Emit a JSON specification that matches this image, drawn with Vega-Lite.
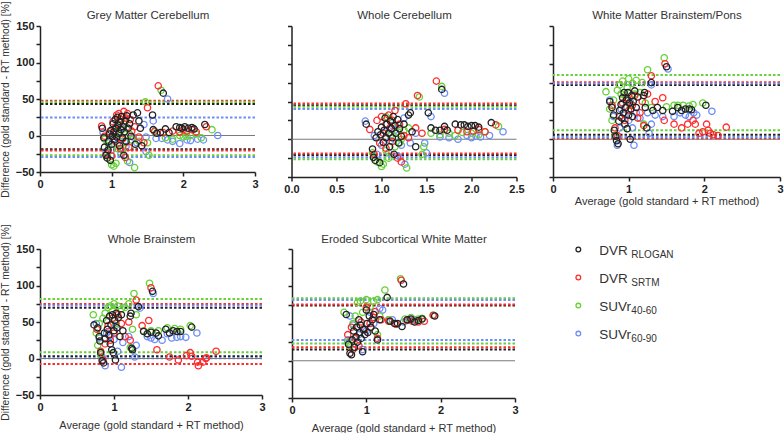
{
"$schema":"https://vega.github.io/schema/vega-lite/v6.json",
"padding":{"left":0,"top":0,"right":0,"bottom":0},
"datasets":{
"lim":[
{"p":1,"s":"R","y":43},{"p":1,"s":"R","y":-19},{"p":1,"s":"S","y":47.5},{"p":1,"s":"S","y":-20.5},{"p":1,"s":"G","y":46},{"p":1,"s":"G","y":-27},{"p":1,"s":"B","y":24.5},{"p":1,"s":"B","y":-29.5},
{"p":2,"s":"R","y":45},{"p":2,"s":"R","y":-21},{"p":2,"s":"S","y":47.5},{"p":2,"s":"S","y":-19},{"p":2,"s":"G","y":43},{"p":2,"s":"G","y":-26.5},{"p":2,"s":"B","y":40},{"p":2,"s":"B","y":-24},
{"p":3,"s":"R","y":72},{"p":3,"s":"R","y":6},{"p":3,"s":"S","y":75.5},{"p":3,"s":"S","y":1},{"p":3,"s":"G","y":85},{"p":3,"s":"G","y":12},{"p":3,"s":"B","y":74},{"p":3,"s":"B","y":3},
{"p":4,"s":"R","y":69.5},{"p":4,"s":"R","y":3},{"p":4,"s":"S","y":74.5},{"p":4,"s":"S","y":-7.5},{"p":4,"s":"G","y":81.5},{"p":4,"s":"G","y":8.5},{"p":4,"s":"B","y":72.5},{"p":4,"s":"B","y":0.5},
{"p":5,"s":"R","y":74},{"p":5,"s":"R","y":15},{"p":5,"s":"S","y":75.5},{"p":5,"s":"S","y":18},{"p":5,"s":"G","y":84},{"p":5,"s":"G","y":23},{"p":5,"s":"B","y":81.5},{"p":5,"s":"B","y":28}
],
"leg":[
{"s":"R","r":0,"main":"DVR","sub":"RLOGAN"},{"s":"S","r":1,"main":"DVR","sub":"SRTM"},{"s":"G","r":2,"main":"SUVr","sub":"40-60"},{"s":"B","r":3,"main":"SUVr","sub":"60-90"}
],
"pts":[
{"p":1,"s":"B","x":0.88,"y":4},{"p":1,"s":"B","x":0.92,"y":-22},{"p":1,"s":"B","x":0.95,"y":-10},{"p":1,"s":"B","x":1.0,"y":-20},{"p":1,"s":"B","x":1.02,"y":-5},{"p":1,"s":"B","x":1.05,"y":12},{"p":1,"s":"B","x":1.08,"y":-12},{"p":1,"s":"B","x":1.1,"y":5},{"p":1,"s":"B","x":1.13,"y":-25},{"p":1,"s":"B","x":1.15,"y":10},{"p":1,"s":"B","x":1.18,"y":-8},{"p":1,"s":"B","x":1.2,"y":-15},{"p":1,"s":"B","x":1.25,"y":-37},{"p":1,"s":"B","x":1.3,"y":-2},{"p":1,"s":"B","x":1.35,"y":-10},{"p":1,"s":"B","x":1.45,"y":15},{"p":1,"s":"B","x":1.48,"y":-2},{"p":1,"s":"B","x":1.48,"y":-22},{"p":1,"s":"B","x":1.58,"y":20},{"p":1,"s":"B","x":1.62,"y":-4},{"p":1,"s":"B","x":1.7,"y":-4},{"p":1,"s":"B","x":1.78,"y":50},{"p":1,"s":"B","x":1.78,"y":-6},{"p":1,"s":"B","x":1.85,"y":-8},{"p":1,"s":"B","x":1.95,"y":-11},{"p":1,"s":"B","x":2.05,"y":-6},{"p":1,"s":"B","x":2.1,"y":-7},{"p":1,"s":"B","x":2.2,"y":-5},{"p":1,"s":"B","x":2.28,"y":-6},{"p":1,"s":"B","x":2.48,"y":0},
{"p":2,"s":"B","x":0.82,"y":24},{"p":2,"s":"B","x":0.92,"y":5},{"p":2,"s":"B","x":0.95,"y":-20},{"p":2,"s":"B","x":1.0,"y":-8},{"p":2,"s":"B","x":1.05,"y":10},{"p":2,"s":"B","x":1.08,"y":-18},{"p":2,"s":"B","x":1.1,"y":-2},{"p":2,"s":"B","x":1.15,"y":12},{"p":2,"s":"B","x":1.18,"y":-22},{"p":2,"s":"B","x":1.22,"y":-8},{"p":2,"s":"B","x":1.25,"y":28},{"p":2,"s":"B","x":1.26,"y":-33},{"p":2,"s":"B","x":1.32,"y":-5},{"p":2,"s":"B","x":1.38,"y":8},{"p":2,"s":"B","x":1.48,"y":-5},{"p":2,"s":"B","x":1.5,"y":-18},{"p":2,"s":"B","x":1.55,"y":30},{"p":2,"s":"B","x":1.65,"y":3},{"p":2,"s":"B","x":1.7,"y":61},{"p":2,"s":"B","x":1.75,"y":2},{"p":2,"s":"B","x":1.85,"y":0},{"p":2,"s":"B","x":1.95,"y":5},{"p":2,"s":"B","x":2.0,"y":2},{"p":2,"s":"B","x":2.05,"y":4},{"p":2,"s":"B","x":2.1,"y":3},{"p":2,"s":"B","x":2.2,"y":5},{"p":2,"s":"B","x":2.35,"y":10},{"p":2,"s":"B","x":1.12,"y":18},
{"p":3,"s":"B","x":0.75,"y":52},{"p":3,"s":"B","x":0.8,"y":30},{"p":3,"s":"B","x":0.85,"y":-8},{"p":3,"s":"B","x":0.88,"y":15},{"p":3,"s":"B","x":0.9,"y":40},{"p":3,"s":"B","x":0.95,"y":32},{"p":3,"s":"B","x":1.0,"y":25},{"p":3,"s":"B","x":1.02,"y":50},{"p":3,"s":"B","x":1.05,"y":15},{"p":3,"s":"B","x":1.07,"y":-8},{"p":3,"s":"B","x":1.1,"y":35},{"p":3,"s":"B","x":1.15,"y":28},{"p":3,"s":"B","x":1.25,"y":35},{"p":3,"s":"B","x":1.27,"y":8},{"p":3,"s":"B","x":1.3,"y":20},{"p":3,"s":"B","x":1.3,"y":72},{"p":3,"s":"B","x":1.35,"y":32},{"p":3,"s":"B","x":1.45,"y":30},{"p":3,"s":"B","x":1.52,"y":93},{"p":3,"s":"B","x":1.6,"y":30},{"p":3,"s":"B","x":1.68,"y":35},{"p":3,"s":"B","x":1.75,"y":32},{"p":3,"s":"B","x":1.8,"y":30},{"p":3,"s":"B","x":1.86,"y":35},{"p":3,"s":"B","x":1.9,"y":32},{"p":3,"s":"B","x":2.1,"y":37},
{"p":4,"s":"B","x":0.76,"y":48},{"p":4,"s":"B","x":0.8,"y":28},{"p":4,"s":"B","x":0.84,"y":2},{"p":4,"s":"B","x":0.88,"y":-10},{"p":4,"s":"B","x":0.9,"y":35},{"p":4,"s":"B","x":0.95,"y":30},{"p":4,"s":"B","x":1.0,"y":26},{"p":4,"s":"B","x":1.02,"y":45},{"p":4,"s":"B","x":1.05,"y":10},{"p":4,"s":"B","x":1.1,"y":-12},{"p":4,"s":"B","x":1.12,"y":22},{"p":4,"s":"B","x":1.2,"y":30},{"p":4,"s":"B","x":1.28,"y":2},{"p":4,"s":"B","x":1.3,"y":18},{"p":4,"s":"B","x":1.35,"y":69},{"p":4,"s":"B","x":1.45,"y":30},{"p":4,"s":"B","x":1.5,"y":28},{"p":4,"s":"B","x":1.53,"y":89},{"p":4,"s":"B","x":1.55,"y":26},{"p":4,"s":"B","x":1.65,"y":25},{"p":4,"s":"B","x":1.72,"y":34},{"p":4,"s":"B","x":1.78,"y":28},{"p":4,"s":"B","x":1.85,"y":29},{"p":4,"s":"B","x":1.9,"y":30},{"p":4,"s":"B","x":1.97,"y":29},{"p":4,"s":"B","x":2.12,"y":35},
{"p":5,"s":"B","x":0.75,"y":28},{"p":5,"s":"B","x":0.78,"y":60},{"p":5,"s":"B","x":0.82,"y":48},{"p":5,"s":"B","x":0.85,"y":22},{"p":5,"s":"B","x":0.9,"y":35},{"p":5,"s":"B","x":0.95,"y":15},{"p":5,"s":"B","x":1.0,"y":40},{"p":5,"s":"B","x":1.05,"y":65},{"p":5,"s":"B","x":1.1,"y":50},{"p":5,"s":"B","x":1.18,"y":70},{"p":5,"s":"B","x":1.22,"y":68},{"p":5,"s":"B","x":1.3,"y":55},{"p":5,"s":"B","x":1.35,"y":55},{"p":5,"s":"B","x":1.5,"y":52},{"p":5,"s":"B","x":1.58,"y":55},{"p":5,"s":"B","x":1.65,"y":55},
{"p":1,"s":"G","x":0.9,"y":-5},{"p":1,"s":"G","x":0.93,"y":-30},{"p":1,"s":"G","x":0.96,"y":-14},{"p":1,"s":"G","x":1.0,"y":-40},{"p":1,"s":"G","x":1.03,"y":-42},{"p":1,"s":"G","x":1.06,"y":-38},{"p":1,"s":"G","x":1.05,"y":5},{"p":1,"s":"G","x":1.08,"y":-18},{"p":1,"s":"G","x":1.1,"y":20},{"p":1,"s":"G","x":1.12,"y":0},{"p":1,"s":"G","x":1.15,"y":-20},{"p":1,"s":"G","x":1.18,"y":15},{"p":1,"s":"G","x":1.2,"y":-10},{"p":1,"s":"G","x":1.22,"y":-35},{"p":1,"s":"G","x":1.25,"y":2},{"p":1,"s":"G","x":1.28,"y":-6},{"p":1,"s":"G","x":1.32,"y":-44},{"p":1,"s":"G","x":1.38,"y":-8},{"p":1,"s":"G","x":1.47,"y":46},{"p":1,"s":"G","x":1.5,"y":-10},{"p":1,"s":"G","x":1.52,"y":-27},{"p":1,"s":"G","x":1.6,"y":5},{"p":1,"s":"G","x":1.69,"y":62},{"p":1,"s":"G","x":1.75,"y":-3},{"p":1,"s":"G","x":1.85,"y":-5},{"p":1,"s":"G","x":1.95,"y":0},{"p":1,"s":"G","x":2.0,"y":-2},{"p":1,"s":"G","x":2.05,"y":-1},{"p":1,"s":"G","x":2.1,"y":0},{"p":1,"s":"G","x":2.18,"y":2},{"p":1,"s":"G","x":2.25,"y":-3},{"p":1,"s":"G","x":2.4,"y":8},{"p":1,"s":"G","x":1.15,"y":8},
{"p":2,"s":"G","x":0.9,"y":-18},{"p":2,"s":"G","x":0.95,"y":-30},{"p":2,"s":"G","x":1.0,"y":-36},{"p":2,"s":"G","x":1.02,"y":-33},{"p":2,"s":"G","x":1.05,"y":-15},{"p":2,"s":"G","x":1.08,"y":-25},{"p":2,"s":"G","x":1.1,"y":5},{"p":2,"s":"G","x":1.15,"y":-10},{"p":2,"s":"G","x":1.18,"y":10},{"p":2,"s":"G","x":1.2,"y":-5},{"p":2,"s":"G","x":1.22,"y":0},{"p":2,"s":"G","x":1.25,"y":12},{"p":2,"s":"G","x":1.28,"y":-38},{"p":2,"s":"G","x":1.3,"y":15},{"p":2,"s":"G","x":1.42,"y":56},{"p":2,"s":"G","x":1.45,"y":-20},{"p":2,"s":"G","x":1.47,"y":-10},{"p":2,"s":"G","x":1.55,"y":8},{"p":2,"s":"G","x":1.65,"y":6},{"p":2,"s":"G","x":1.67,"y":70},{"p":2,"s":"G","x":1.75,"y":8},{"p":2,"s":"G","x":1.82,"y":5},{"p":2,"s":"G","x":1.9,"y":9},{"p":2,"s":"G","x":2.0,"y":8},{"p":2,"s":"G","x":2.08,"y":6},{"p":2,"s":"G","x":2.15,"y":10},{"p":2,"s":"G","x":2.3,"y":17},{"p":2,"s":"G","x":1.05,"y":30},{"p":2,"s":"G","x":1.12,"y":22},
{"p":3,"s":"G","x":0.7,"y":63},{"p":3,"s":"G","x":0.75,"y":40},{"p":3,"s":"G","x":0.78,"y":25},{"p":3,"s":"G","x":0.8,"y":52},{"p":3,"s":"G","x":0.82,"y":5},{"p":3,"s":"G","x":0.85,"y":65},{"p":3,"s":"G","x":0.88,"y":72},{"p":3,"s":"G","x":0.92,"y":77},{"p":3,"s":"G","x":0.95,"y":58},{"p":3,"s":"G","x":0.98,"y":68},{"p":3,"s":"G","x":1.0,"y":80},{"p":3,"s":"G","x":1.02,"y":45},{"p":3,"s":"G","x":1.05,"y":74},{"p":3,"s":"G","x":1.1,"y":78},{"p":3,"s":"G","x":1.15,"y":62},{"p":3,"s":"G","x":1.18,"y":75},{"p":3,"s":"G","x":1.2,"y":20},{"p":3,"s":"G","x":1.22,"y":48},{"p":3,"s":"G","x":1.25,"y":92},{"p":3,"s":"G","x":1.3,"y":42},{"p":3,"s":"G","x":1.47,"y":108},{"p":3,"s":"G","x":1.5,"y":43},{"p":3,"s":"G","x":1.6,"y":45},{"p":3,"s":"G","x":1.65,"y":45},{"p":3,"s":"G","x":1.72,"y":45},{"p":3,"s":"G","x":1.8,"y":44},{"p":3,"s":"G","x":1.85,"y":46},{"p":3,"s":"G","x":1.98,"y":48},{"p":3,"s":"G","x":0.9,"y":60},{"p":3,"s":"G","x":1.08,"y":60},
{"p":4,"s":"G","x":0.72,"y":60},{"p":4,"s":"G","x":0.76,"y":35},{"p":4,"s":"G","x":0.78,"y":18},{"p":4,"s":"G","x":0.8,"y":48},{"p":4,"s":"G","x":0.82,"y":5},{"p":4,"s":"G","x":0.85,"y":55},{"p":4,"s":"G","x":0.88,"y":62},{"p":4,"s":"G","x":0.92,"y":70},{"p":4,"s":"G","x":0.95,"y":72},{"p":4,"s":"G","x":0.98,"y":65},{"p":4,"s":"G","x":1.0,"y":75},{"p":4,"s":"G","x":1.03,"y":48},{"p":4,"s":"G","x":1.05,"y":72},{"p":4,"s":"G","x":1.1,"y":68},{"p":4,"s":"G","x":1.15,"y":70},{"p":4,"s":"G","x":1.2,"y":75},{"p":4,"s":"G","x":1.22,"y":15},{"p":4,"s":"G","x":1.25,"y":40},{"p":4,"s":"G","x":1.27,"y":89},{"p":4,"s":"G","x":1.3,"y":60},{"p":4,"s":"G","x":1.4,"y":38},{"p":4,"s":"G","x":1.48,"y":103},{"p":4,"s":"G","x":1.5,"y":38},{"p":4,"s":"G","x":1.6,"y":38},{"p":4,"s":"G","x":1.72,"y":42},{"p":4,"s":"G","x":1.82,"y":41},{"p":4,"s":"G","x":1.9,"y":40},{"p":4,"s":"G","x":2.03,"y":45},
{"p":5,"s":"G","x":0.7,"y":65},{"p":5,"s":"G","x":0.75,"y":25},{"p":5,"s":"G","x":0.78,"y":20},{"p":5,"s":"G","x":0.82,"y":50},{"p":5,"s":"G","x":0.85,"y":60},{"p":5,"s":"G","x":0.88,"y":78},{"p":5,"s":"G","x":0.92,"y":80},{"p":5,"s":"G","x":0.95,"y":65},{"p":5,"s":"G","x":1.0,"y":82},{"p":5,"s":"G","x":1.05,"y":72},{"p":5,"s":"G","x":1.1,"y":80},{"p":5,"s":"G","x":1.15,"y":82},{"p":5,"s":"G","x":1.15,"y":35},{"p":5,"s":"G","x":1.18,"y":60},{"p":5,"s":"G","x":1.25,"y":95},{"p":5,"s":"G","x":1.3,"y":55},{"p":5,"s":"G","x":1.46,"y":110},{"p":5,"s":"G","x":1.52,"y":56},{"p":5,"s":"G","x":1.6,"y":58},{"p":5,"s":"G","x":1.7,"y":56},{"p":5,"s":"G","x":1.75,"y":57},{"p":5,"s":"G","x":1.9,"y":61},
{"p":1,"s":"S","x":0.86,"y":13},{"p":1,"s":"S","x":0.9,"y":-1},{"p":1,"s":"S","x":0.93,"y":-25},{"p":1,"s":"S","x":0.97,"y":5},{"p":1,"s":"S","x":1.0,"y":-28},{"p":1,"s":"S","x":1.02,"y":19},{"p":1,"s":"S","x":1.05,"y":-8},{"p":1,"s":"S","x":1.07,"y":28},{"p":1,"s":"S","x":1.1,"y":30},{"p":1,"s":"S","x":1.12,"y":-18},{"p":1,"s":"S","x":1.13,"y":22},{"p":1,"s":"S","x":1.15,"y":-5},{"p":1,"s":"S","x":1.17,"y":33},{"p":1,"s":"S","x":1.19,"y":-30},{"p":1,"s":"S","x":1.2,"y":24},{"p":1,"s":"S","x":1.22,"y":30},{"p":1,"s":"S","x":1.24,"y":-16},{"p":1,"s":"S","x":1.26,"y":22},{"p":1,"s":"S","x":1.28,"y":6},{"p":1,"s":"S","x":1.32,"y":12},{"p":1,"s":"S","x":1.38,"y":-2},{"p":1,"s":"S","x":1.45,"y":-10},{"p":1,"s":"S","x":1.5,"y":38},{"p":1,"s":"S","x":1.65,"y":68},{"p":1,"s":"S","x":1.6,"y":6},{"p":1,"s":"S","x":1.72,"y":4},{"p":1,"s":"S","x":1.85,"y":6},{"p":1,"s":"S","x":1.95,"y":5},{"p":1,"s":"S","x":2.0,"y":8},{"p":1,"s":"S","x":2.05,"y":6},{"p":1,"s":"S","x":2.12,"y":8},{"p":1,"s":"S","x":2.18,"y":5},{"p":1,"s":"S","x":2.32,"y":12},{"p":1,"s":"S","x":1.1,"y":15},{"p":1,"s":"S","x":1.05,"y":10},
{"p":2,"s":"S","x":0.87,"y":13},{"p":2,"s":"S","x":0.92,"y":-20},{"p":2,"s":"S","x":0.95,"y":25},{"p":2,"s":"S","x":0.98,"y":-5},{"p":2,"s":"S","x":1.0,"y":30},{"p":2,"s":"S","x":1.02,"y":8},{"p":2,"s":"S","x":1.05,"y":-12},{"p":2,"s":"S","x":1.08,"y":32},{"p":2,"s":"S","x":1.1,"y":16},{"p":2,"s":"S","x":1.12,"y":-3},{"p":2,"s":"S","x":1.15,"y":38},{"p":2,"s":"S","x":1.18,"y":-25},{"p":2,"s":"S","x":1.2,"y":20},{"p":2,"s":"S","x":1.22,"y":-30},{"p":2,"s":"S","x":1.25,"y":5},{"p":2,"s":"S","x":1.27,"y":47},{"p":2,"s":"S","x":1.3,"y":2},{"p":2,"s":"S","x":1.38,"y":15},{"p":2,"s":"S","x":1.4,"y":58},{"p":2,"s":"S","x":1.45,"y":8},{"p":2,"s":"S","x":1.61,"y":77},{"p":2,"s":"S","x":1.7,"y":13},{"p":2,"s":"S","x":1.85,"y":12},{"p":2,"s":"S","x":1.95,"y":10},{"p":2,"s":"S","x":2.02,"y":11},{"p":2,"s":"S","x":2.08,"y":13},{"p":2,"s":"S","x":2.15,"y":10},{"p":2,"s":"S","x":2.27,"y":19},{"p":2,"s":"S","x":1.05,"y":20},{"p":2,"s":"S","x":1.12,"y":25},
{"p":3,"s":"S","x":0.78,"y":45},{"p":3,"s":"S","x":0.82,"y":15},{"p":3,"s":"S","x":0.85,"y":5},{"p":3,"s":"S","x":0.88,"y":30},{"p":3,"s":"S","x":0.92,"y":48},{"p":3,"s":"S","x":0.95,"y":25},{"p":3,"s":"S","x":0.98,"y":55},{"p":3,"s":"S","x":1.0,"y":38},{"p":3,"s":"S","x":1.05,"y":45},{"p":3,"s":"S","x":1.08,"y":58},{"p":3,"s":"S","x":1.12,"y":28},{"p":3,"s":"S","x":1.15,"y":35},{"p":3,"s":"S","x":1.18,"y":50},{"p":3,"s":"S","x":1.2,"y":18},{"p":3,"s":"S","x":1.25,"y":60},{"p":3,"s":"S","x":1.3,"y":84},{"p":3,"s":"S","x":1.35,"y":50},{"p":3,"s":"S","x":1.45,"y":55},{"p":3,"s":"S","x":1.48,"y":100},{"p":3,"s":"S","x":1.47,"y":25},{"p":3,"s":"S","x":1.6,"y":20},{"p":3,"s":"S","x":1.7,"y":15},{"p":3,"s":"S","x":1.78,"y":20},{"p":3,"s":"S","x":1.85,"y":25},{"p":3,"s":"S","x":1.88,"y":20},{"p":3,"s":"S","x":1.93,"y":8},{"p":3,"s":"S","x":1.98,"y":10},{"p":3,"s":"S","x":2.03,"y":20},{"p":3,"s":"S","x":2.05,"y":12},{"p":3,"s":"S","x":2.08,"y":8},{"p":3,"s":"S","x":2.12,"y":6},{"p":3,"s":"S","x":2.18,"y":5},{"p":3,"s":"S","x":2.29,"y":16},
{"p":4,"s":"S","x":0.77,"y":40},{"p":4,"s":"S","x":0.82,"y":10},{"p":4,"s":"S","x":0.85,"y":-2},{"p":4,"s":"S","x":0.88,"y":20},{"p":4,"s":"S","x":0.92,"y":45},{"p":4,"s":"S","x":0.95,"y":25},{"p":4,"s":"S","x":0.98,"y":55},{"p":4,"s":"S","x":1.0,"y":35},{"p":4,"s":"S","x":1.05,"y":60},{"p":4,"s":"S","x":1.1,"y":48},{"p":4,"s":"S","x":1.15,"y":30},{"p":4,"s":"S","x":1.2,"y":50},{"p":4,"s":"S","x":1.22,"y":25},{"p":4,"s":"S","x":1.3,"y":80},{"p":4,"s":"S","x":1.38,"y":45},{"p":4,"s":"S","x":1.47,"y":52},{"p":4,"s":"S","x":1.5,"y":97},{"p":4,"s":"S","x":1.58,"y":12},{"p":4,"s":"S","x":1.75,"y":2},{"p":4,"s":"S","x":1.87,"y":-2},{"p":4,"s":"S","x":1.98,"y":4},{"p":4,"s":"S","x":2.03,"y":8},{"p":4,"s":"S","x":2.05,"y":3},{"p":4,"s":"S","x":2.13,"y":-5},{"p":4,"s":"S","x":2.14,"y":-10},{"p":4,"s":"S","x":2.2,"y":-5},{"p":4,"s":"S","x":2.24,"y":0},{"p":4,"s":"S","x":2.25,"y":1},{"p":4,"s":"S","x":2.38,"y":10},
{"p":5,"s":"S","x":0.75,"y":35},{"p":5,"s":"S","x":0.8,"y":45},{"p":5,"s":"S","x":0.82,"y":15},{"p":5,"s":"S","x":0.85,"y":30},{"p":5,"s":"S","x":0.9,"y":20},{"p":5,"s":"S","x":0.93,"y":52},{"p":5,"s":"S","x":0.98,"y":42},{"p":5,"s":"S","x":1.0,"y":72},{"p":5,"s":"S","x":1.05,"y":50},{"p":5,"s":"S","x":1.1,"y":58},{"p":5,"s":"S","x":1.12,"y":66},{"p":5,"s":"S","x":1.15,"y":30},{"p":5,"s":"S","x":1.2,"y":55},{"p":5,"s":"S","x":1.3,"y":53},{"p":5,"s":"S","x":1.4,"y":49},{"p":5,"s":"S","x":1.47,"y":108},{"p":5,"s":"S","x":1.55,"y":54},{"p":5,"s":"S","x":1.62,"y":53},{"p":5,"s":"S","x":1.7,"y":52},{"p":5,"s":"S","x":1.78,"y":53},{"p":5,"s":"S","x":1.9,"y":61},
{"p":1,"s":"R","x":0.87,"y":10},{"p":1,"s":"R","x":0.89,"y":-3},{"p":1,"s":"R","x":0.9,"y":-16},{"p":1,"s":"R","x":0.92,"y":-27},{"p":1,"s":"R","x":0.94,"y":-31},{"p":1,"s":"R","x":0.95,"y":-20},{"p":1,"s":"R","x":0.96,"y":-8},{"p":1,"s":"R","x":0.97,"y":2},{"p":1,"s":"R","x":0.98,"y":-34},{"p":1,"s":"R","x":0.99,"y":7},{"p":1,"s":"R","x":1.0,"y":-12},{"p":1,"s":"R","x":1.01,"y":-1},{"p":1,"s":"R","x":1.02,"y":16},{"p":1,"s":"R","x":1.03,"y":5},{"p":1,"s":"R","x":1.04,"y":-6},{"p":1,"s":"R","x":1.05,"y":22},{"p":1,"s":"R","x":1.06,"y":10},{"p":1,"s":"R","x":1.07,"y":-2},{"p":1,"s":"R","x":1.08,"y":25},{"p":1,"s":"R","x":1.09,"y":14},{"p":1,"s":"R","x":1.1,"y":3},{"p":1,"s":"R","x":1.11,"y":-14},{"p":1,"s":"R","x":1.12,"y":19},{"p":1,"s":"R","x":1.13,"y":8},{"p":1,"s":"R","x":1.14,"y":26},{"p":1,"s":"R","x":1.15,"y":-3},{"p":1,"s":"R","x":1.16,"y":12},{"p":1,"s":"R","x":1.17,"y":-27},{"p":1,"s":"R","x":1.18,"y":5},{"p":1,"s":"R","x":1.19,"y":20},{"p":1,"s":"R","x":1.2,"y":-8},{"p":1,"s":"R","x":1.21,"y":27},{"p":1,"s":"R","x":1.23,"y":10},{"p":1,"s":"R","x":1.25,"y":16},{"p":1,"s":"R","x":1.27,"y":-1},{"p":1,"s":"R","x":1.3,"y":28},{"p":1,"s":"R","x":1.33,"y":-12},{"p":1,"s":"R","x":1.36,"y":31},{"p":1,"s":"R","x":1.38,"y":20},{"p":1,"s":"R","x":1.4,"y":10},{"p":1,"s":"R","x":1.42,"y":-14},{"p":1,"s":"R","x":1.57,"y":28},{"p":1,"s":"R","x":1.58,"y":8},{"p":1,"s":"R","x":1.63,"y":3},{"p":1,"s":"R","x":1.68,"y":4},{"p":1,"s":"R","x":1.72,"y":58},{"p":1,"s":"R","x":1.75,"y":9},{"p":1,"s":"R","x":1.8,"y":4},{"p":1,"s":"R","x":1.9,"y":12},{"p":1,"s":"R","x":1.95,"y":11},{"p":1,"s":"R","x":1.98,"y":10},{"p":1,"s":"R","x":2.02,"y":12},{"p":1,"s":"R","x":2.07,"y":10},{"p":1,"s":"R","x":2.12,"y":11},{"p":1,"s":"R","x":2.15,"y":9},{"p":1,"s":"R","x":2.3,"y":15},
{"p":2,"s":"R","x":0.83,"y":20},{"p":2,"s":"R","x":0.9,"y":-13},{"p":2,"s":"R","x":0.91,"y":-24},{"p":2,"s":"R","x":0.93,"y":-28},{"p":2,"s":"R","x":0.94,"y":2},{"p":2,"s":"R","x":0.96,"y":10},{"p":2,"s":"R","x":0.98,"y":-31},{"p":2,"s":"R","x":0.99,"y":6},{"p":2,"s":"R","x":1.0,"y":16},{"p":2,"s":"R","x":1.02,"y":-4},{"p":2,"s":"R","x":1.03,"y":12},{"p":2,"s":"R","x":1.04,"y":28},{"p":2,"s":"R","x":1.05,"y":2},{"p":2,"s":"R","x":1.06,"y":20},{"p":2,"s":"R","x":1.08,"y":8},{"p":2,"s":"R","x":1.09,"y":-10},{"p":2,"s":"R","x":1.1,"y":24},{"p":2,"s":"R","x":1.11,"y":14},{"p":2,"s":"R","x":1.12,"y":2},{"p":2,"s":"R","x":1.13,"y":30},{"p":2,"s":"R","x":1.14,"y":-20},{"p":2,"s":"R","x":1.15,"y":18},{"p":2,"s":"R","x":1.16,"y":8},{"p":2,"s":"R","x":1.18,"y":26},{"p":2,"s":"R","x":1.19,"y":-5},{"p":2,"s":"R","x":1.2,"y":14},{"p":2,"s":"R","x":1.22,"y":4},{"p":2,"s":"R","x":1.25,"y":20},{"p":2,"s":"R","x":1.3,"y":32},{"p":2,"s":"R","x":1.32,"y":35},{"p":2,"s":"R","x":1.34,"y":10},{"p":2,"s":"R","x":1.38,"y":-10},{"p":2,"s":"R","x":1.52,"y":35},{"p":2,"s":"R","x":1.55,"y":15},{"p":2,"s":"R","x":1.6,"y":12},{"p":2,"s":"R","x":1.65,"y":12},{"p":2,"s":"R","x":1.67,"y":66},{"p":2,"s":"R","x":1.7,"y":17},{"p":2,"s":"R","x":1.73,"y":12},{"p":2,"s":"R","x":1.82,"y":20},{"p":2,"s":"R","x":1.88,"y":19},{"p":2,"s":"R","x":1.92,"y":19},{"p":2,"s":"R","x":1.96,"y":17},{"p":2,"s":"R","x":2.0,"y":18},{"p":2,"s":"R","x":2.04,"y":18},{"p":2,"s":"R","x":2.08,"y":16},{"p":2,"s":"R","x":2.22,"y":22},
{"p":3,"s":"R","x":0.75,"y":50},{"p":3,"s":"R","x":0.78,"y":42},{"p":3,"s":"R","x":0.8,"y":32},{"p":3,"s":"R","x":0.81,"y":12},{"p":3,"s":"R","x":0.83,"y":4},{"p":3,"s":"R","x":0.84,"y":-2},{"p":3,"s":"R","x":0.86,"y":-6},{"p":3,"s":"R","x":0.87,"y":24},{"p":3,"s":"R","x":0.88,"y":38},{"p":3,"s":"R","x":0.9,"y":46},{"p":3,"s":"R","x":0.91,"y":28},{"p":3,"s":"R","x":0.92,"y":55},{"p":3,"s":"R","x":0.93,"y":35},{"p":3,"s":"R","x":0.94,"y":62},{"p":3,"s":"R","x":0.95,"y":20},{"p":3,"s":"R","x":0.96,"y":42},{"p":3,"s":"R","x":0.97,"y":52},{"p":3,"s":"R","x":0.98,"y":14},{"p":3,"s":"R","x":0.99,"y":62},{"p":3,"s":"R","x":1.0,"y":32},{"p":3,"s":"R","x":1.01,"y":48},{"p":3,"s":"R","x":1.02,"y":0},{"p":3,"s":"R","x":1.03,"y":40},{"p":3,"s":"R","x":1.04,"y":58},{"p":3,"s":"R","x":1.05,"y":30},{"p":3,"s":"R","x":1.06,"y":50},{"p":3,"s":"R","x":1.08,"y":64},{"p":3,"s":"R","x":1.1,"y":42},{"p":3,"s":"R","x":1.12,"y":56},{"p":3,"s":"R","x":1.2,"y":58},{"p":3,"s":"R","x":1.21,"y":62},{"p":3,"s":"R","x":1.22,"y":42},{"p":3,"s":"R","x":1.24,"y":15},{"p":3,"s":"R","x":1.3,"y":75},{"p":3,"s":"R","x":1.32,"y":38},{"p":3,"s":"R","x":1.38,"y":42},{"p":3,"s":"R","x":1.45,"y":38},{"p":3,"s":"R","x":1.5,"y":96},{"p":3,"s":"R","x":1.58,"y":37},{"p":3,"s":"R","x":1.65,"y":42},{"p":3,"s":"R","x":1.7,"y":38},{"p":3,"s":"R","x":1.75,"y":40},{"p":3,"s":"R","x":1.8,"y":40},{"p":3,"s":"R","x":1.83,"y":39},{"p":3,"s":"R","x":2.02,"y":45},
{"p":4,"s":"R","x":0.73,"y":46},{"p":4,"s":"R","x":0.78,"y":42},{"p":4,"s":"R","x":0.8,"y":30},{"p":4,"s":"R","x":0.81,"y":24},{"p":4,"s":"R","x":0.82,"y":8},{"p":4,"s":"R","x":0.84,"y":-3},{"p":4,"s":"R","x":0.86,"y":-6},{"p":4,"s":"R","x":0.87,"y":35},{"p":4,"s":"R","x":0.88,"y":27},{"p":4,"s":"R","x":0.9,"y":52},{"p":4,"s":"R","x":0.91,"y":40},{"p":4,"s":"R","x":0.93,"y":32},{"p":4,"s":"R","x":0.94,"y":58},{"p":4,"s":"R","x":0.95,"y":20},{"p":4,"s":"R","x":0.96,"y":46},{"p":4,"s":"R","x":0.97,"y":12},{"p":4,"s":"R","x":0.98,"y":60},{"p":4,"s":"R","x":0.99,"y":8},{"p":4,"s":"R","x":1.0,"y":38},{"p":4,"s":"R","x":1.01,"y":52},{"p":4,"s":"R","x":1.02,"y":-2},{"p":4,"s":"R","x":1.03,"y":62},{"p":4,"s":"R","x":1.04,"y":42},{"p":4,"s":"R","x":1.06,"y":56},{"p":4,"s":"R","x":1.08,"y":30},{"p":4,"s":"R","x":1.1,"y":60},{"p":4,"s":"R","x":1.12,"y":38},{"p":4,"s":"R","x":1.22,"y":58},{"p":4,"s":"R","x":1.23,"y":62},{"p":4,"s":"R","x":1.24,"y":14},{"p":4,"s":"R","x":1.25,"y":12},{"p":4,"s":"R","x":1.33,"y":71},{"p":4,"s":"R","x":1.4,"y":37},{"p":4,"s":"R","x":1.45,"y":34},{"p":4,"s":"R","x":1.5,"y":36},{"p":4,"s":"R","x":1.52,"y":92},{"p":4,"s":"R","x":1.57,"y":35},{"p":4,"s":"R","x":1.6,"y":31},{"p":4,"s":"R","x":1.7,"y":40},{"p":4,"s":"R","x":1.75,"y":35},{"p":4,"s":"R","x":1.8,"y":38},{"p":4,"s":"R","x":1.85,"y":37},{"p":4,"s":"R","x":1.9,"y":37},{"p":4,"s":"R","x":2.05,"y":43},
{"p":5,"s":"R","x":0.73,"y":62},{"p":5,"s":"R","x":0.76,"y":22},{"p":5,"s":"R","x":0.78,"y":10},{"p":5,"s":"R","x":0.8,"y":8},{"p":5,"s":"R","x":0.81,"y":28},{"p":5,"s":"R","x":0.83,"y":40},{"p":5,"s":"R","x":0.84,"y":18},{"p":5,"s":"R","x":0.86,"y":32},{"p":5,"s":"R","x":0.87,"y":45},{"p":5,"s":"R","x":0.88,"y":25},{"p":5,"s":"R","x":0.9,"y":55},{"p":5,"s":"R","x":0.91,"y":38},{"p":5,"s":"R","x":0.92,"y":48},{"p":5,"s":"R","x":0.93,"y":30},{"p":5,"s":"R","x":0.95,"y":12},{"p":5,"s":"R","x":0.96,"y":42},{"p":5,"s":"R","x":0.98,"y":35},{"p":5,"s":"R","x":1.0,"y":68},{"p":5,"s":"R","x":1.01,"y":50},{"p":5,"s":"R","x":1.02,"y":38},{"p":5,"s":"R","x":1.04,"y":60},{"p":5,"s":"R","x":1.06,"y":45},{"p":5,"s":"R","x":1.08,"y":55},{"p":5,"s":"R","x":1.1,"y":62},{"p":5,"s":"R","x":1.12,"y":40},{"p":5,"s":"R","x":1.15,"y":28},{"p":5,"s":"R","x":1.18,"y":55},{"p":5,"s":"R","x":1.28,"y":85},{"p":5,"s":"R","x":1.32,"y":53},{"p":5,"s":"R","x":1.38,"y":50},{"p":5,"s":"R","x":1.42,"y":50},{"p":5,"s":"R","x":1.48,"y":46},{"p":5,"s":"R","x":1.5,"y":103},{"p":5,"s":"R","x":1.55,"y":55},{"p":5,"s":"R","x":1.6,"y":56},{"p":5,"s":"R","x":1.65,"y":52},{"p":5,"s":"R","x":1.7,"y":54},{"p":5,"s":"R","x":1.75,"y":56},{"p":5,"s":"R","x":1.92,"y":60}
]
},
"vconcat":[
{"hconcat":[
{"width":215,"height":146,"resolve":{"axis":{"x":"independent"}},
"encoding":{"y":{"field":"y","type":"quantitative","scale":{"domain":[-50,150],"nice":false,"zero":false},"axis":{"values":[-50,-25,0,25,50,75,100,125,150],"labelExpr":"datum.value % 50 == 0 ? datum.label : ''","title":"Difference (gold standard - RT method) [%]","titleFontSize":10.3,"titlePadding":5}}},
"layer":[
{"data":{"name":"pts"},"transform":[{"filter":"datum.p==1"}],"mark":{"type":"point","opacity":0},"encoding":{"x":{"field":"x","type":"quantitative","axis":{"orient":"top","domain":false,"ticks":false,"labels":false,"title":"Grey Matter Cerebellum","titleFontSize":11.5,"titlePadding":6}}}},
{"data":{"name":"lim"},"transform":[{"filter":"datum.p==1"}],"mark":{"type":"rule","strokeDash":[2.5,2],"strokeWidth":2},"encoding":{"color":{"field":"s","type":"nominal","scale":{"domain":["R","S","G","B"],"range":["#222222","#ff2d2d","#66d236","#6d8df7"]},"legend":null}}},
{"data":{"values":[{"y":0}]},"mark":{"type":"rule","color":"#7a7a7a","strokeWidth":1.2},"encoding":{}},
{"data":{"name":"pts"},"transform":[{"filter":"datum.p==1"}],"mark":{"type":"point","filled":false,"size":40,"strokeWidth":1.3,"opacity":1},"encoding":{"x":{"field":"x","type":"quantitative","scale":{"domain":[0,3],"nice":false,"zero":false},"axis":{"orient":"bottom","values":[0,1,2,3],"format":"d","title":null}},"color":{"field":"s","type":"nominal","scale":{"domain":["R","S","G","B"],"range":["#222222","#ff2d2d","#66d236","#6d8df7"]},"legend":null}}}
]},
{"width":225,"height":151,"resolve":{"axis":{"x":"independent"}},
"encoding":{"y":{"field":"y","type":"quantitative","scale":{"domain":[-50,150],"nice":false,"zero":false},"axis":{"values":[-50,-25,0,25,50,75,100,125,150],"labels":false,"title":null}}},
"layer":[
{"data":{"name":"pts"},"transform":[{"filter":"datum.p==2"}],"mark":{"type":"point","opacity":0},"encoding":{"x":{"field":"x","type":"quantitative","axis":{"orient":"top","domain":false,"ticks":false,"labels":false,"title":"Whole Cerebellum","titleFontSize":11.5,"titlePadding":6}}}},
{"data":{"name":"lim"},"transform":[{"filter":"datum.p==2"}],"mark":{"type":"rule","strokeDash":[2.5,2],"strokeWidth":2},"encoding":{"color":{"field":"s","type":"nominal","scale":{"domain":["R","S","G","B"],"range":["#222222","#ff2d2d","#66d236","#6d8df7"]},"legend":null}}},
{"data":{"values":[{"y":0}]},"mark":{"type":"rule","color":"#7a7a7a","strokeWidth":1.2},"encoding":{}},
{"data":{"name":"pts"},"transform":[{"filter":"datum.p==2"}],"mark":{"type":"point","filled":false,"size":40,"strokeWidth":1.3,"opacity":1},"encoding":{"x":{"field":"x","type":"quantitative","scale":{"domain":[0,2.5],"nice":false,"zero":false},"axis":{"orient":"bottom","values":[0,0.5,1,1.5,2,2.5],"format":".1f","title":null}},"color":{"field":"s","type":"nominal","scale":{"domain":["R","S","G","B"],"range":["#222222","#ff2d2d","#66d236","#6d8df7"]},"legend":null}}}
]},
{"width":227,"height":151,"resolve":{"axis":{"x":"independent"}},
"encoding":{"y":{"field":"y","type":"quantitative","scale":{"domain":[-50,150],"nice":false,"zero":false},"axis":{"values":[-50,-25,0,25,50,75,100,125,150],"labels":false,"title":null}}},
"layer":[
{"data":{"name":"pts"},"transform":[{"filter":"datum.p==3"}],"mark":{"type":"point","opacity":0},"encoding":{"x":{"field":"x","type":"quantitative","axis":{"orient":"top","domain":false,"ticks":false,"labels":false,"title":"White Matter Brainstem/Pons","titleFontSize":11.5,"titlePadding":6}}}},
{"data":{"name":"lim"},"transform":[{"filter":"datum.p==3"}],"mark":{"type":"rule","strokeDash":[2.5,2],"strokeWidth":2},"encoding":{"color":{"field":"s","type":"nominal","scale":{"domain":["R","S","G","B"],"range":["#222222","#ff2d2d","#66d236","#6d8df7"]},"legend":null}}},
{"data":{"values":[{"y":0}]},"mark":{"type":"rule","color":"#7a7a7a","strokeWidth":1.2},"encoding":{}},
{"data":{"name":"pts"},"transform":[{"filter":"datum.p==3"}],"mark":{"type":"point","filled":false,"size":40,"strokeWidth":1.3,"opacity":1},"encoding":{"x":{"field":"x","type":"quantitative","scale":{"domain":[0,3],"nice":false,"zero":false},"axis":{"orient":"bottom","values":[0,1,2,3],"format":"d","title":"Average (gold standard + RT method)","titlePadding":1}},"color":{"field":"s","type":"nominal","scale":{"domain":["R","S","G","B"],"range":["#222222","#ff2d2d","#66d236","#6d8df7"]},"legend":null}}}
]}
],"spacing":36.5,"bounds":"flush"},
{"hconcat":[
{"width":222,"height":146,"resolve":{"axis":{"x":"independent"}},
"encoding":{"y":{"field":"y","type":"quantitative","scale":{"domain":[-50,150],"nice":false,"zero":false},"axis":{"values":[-50,-25,0,25,50,75,100,125,150],"labelExpr":"datum.value % 50 == 0 ? datum.label : ''","title":"Difference (gold standard - RT method) [%]","titleFontSize":10.3,"titlePadding":5}}},
"layer":[
{"data":{"name":"pts"},"transform":[{"filter":"datum.p==4"}],"mark":{"type":"point","opacity":0},"encoding":{"x":{"field":"x","type":"quantitative","axis":{"orient":"top","domain":false,"ticks":false,"labels":false,"title":"Whole  Brainstem","titleFontSize":11.5,"titlePadding":5}}}},
{"data":{"name":"lim"},"transform":[{"filter":"datum.p==4"}],"mark":{"type":"rule","strokeDash":[2.5,2],"strokeWidth":2},"encoding":{"color":{"field":"s","type":"nominal","scale":{"domain":["R","S","G","B"],"range":["#222222","#ff2d2d","#66d236","#6d8df7"]},"legend":null}}},
{"data":{"values":[{"y":0}]},"mark":{"type":"rule","color":"#7a7a7a","strokeWidth":1.2},"encoding":{}},
{"data":{"name":"pts"},"transform":[{"filter":"datum.p==4"}],"mark":{"type":"point","filled":false,"size":40,"strokeWidth":1.3,"opacity":1},"encoding":{"x":{"field":"x","type":"quantitative","scale":{"domain":[0,3],"nice":false,"zero":false},"axis":{"orient":"bottom","values":[0,1,2,3],"format":"d","title":"Average (gold standard + RT method)","titlePadding":7}},"color":{"field":"s","type":"nominal","scale":{"domain":["R","S","G","B"],"range":["#222222","#ff2d2d","#66d236","#6d8df7"]},"legend":null}}}
]},
{"width":223,"height":149,"resolve":{"axis":{"x":"independent"}},
"encoding":{"y":{"field":"y","type":"quantitative","scale":{"domain":[-50,150],"nice":false,"zero":false},"axis":{"values":[-50,-25,0,25,50,75,100,125,150],"labels":false,"title":null}}},
"layer":[
{"data":{"name":"pts"},"transform":[{"filter":"datum.p==5"}],"mark":{"type":"point","opacity":0},"encoding":{"x":{"field":"x","type":"quantitative","axis":{"orient":"top","domain":false,"ticks":false,"labels":false,"title":"Eroded Subcortical White Matter","titleFontSize":11.5,"titlePadding":5}}}},
{"data":{"name":"lim"},"transform":[{"filter":"datum.p==5"}],"mark":{"type":"rule","strokeDash":[2.5,2],"strokeWidth":2},"encoding":{"color":{"field":"s","type":"nominal","scale":{"domain":["R","S","G","B"],"range":["#222222","#ff2d2d","#66d236","#6d8df7"]},"legend":null}}},
{"data":{"values":[{"y":0}]},"mark":{"type":"rule","color":"#7a7a7a","strokeWidth":1.2},"encoding":{}},
{"data":{"name":"pts"},"transform":[{"filter":"datum.p==5"}],"mark":{"type":"point","filled":false,"size":40,"strokeWidth":1.3,"opacity":1},"encoding":{"x":{"field":"x","type":"quantitative","scale":{"domain":[0,3],"nice":false,"zero":false},"axis":{"orient":"bottom","values":[0,1,2,3],"format":"d","title":"Average (gold standard + RT method)","titlePadding":7}},"color":{"field":"s","type":"nominal","scale":{"domain":["R","S","G","B"],"range":["#222222","#ff2d2d","#66d236","#6d8df7"]},"legend":null}}}
]},
{"width":200,"height":149,"data":{"name":"leg"},
"encoding":{"x":{"datum":1,"type":"quantitative","scale":{"domain":[0,6],"nice":false,"zero":false},"axis":null},"y":{"field":"r","type":"quantitative","scale":{"domain":[-0.02,5.3],"reverse":true,"nice":false,"zero":false},"axis":null}},
"layer":[
{"mark":{"type":"point","filled":false,"size":22,"strokeWidth":1.3,"opacity":1},"encoding":{"color":{"field":"s","type":"nominal","scale":{"domain":["R","S","G","B"],"range":["#222222","#ff2d2d","#66d236","#6d8df7"]},"legend":null}}},
{"mark":{"type":"text","align":"left","baseline":"alphabetic","dx":21,"dy":5,"fontSize":13.5,"color":"#333333"},"encoding":{"text":{"field":"main"}}},
{"mark":{"type":"text","align":"left","baseline":"alphabetic","dx":53,"dy":8,"fontSize":10,"color":"#333333"},"encoding":{"text":{"field":"sub"}}}
]}
],"spacing":30,"bounds":"flush"}
],
"spacing":17,
"config":{
"view":{"stroke":null},
"font":"Liberation Sans",
"text":{"font":"Liberation Sans"},
"axis":{"grid":false,"domainColor":"#222222","domainWidth":1.5,"tickColor":"#222222","tickWidth":1.5,"tickSize":4,"labelPadding":2,"labelFont":"Liberation Sans","labelFontWeight":"bold","labelFontSize":11,"labelColor":"#222222","labelFlush":false,"labelOverlap":false,"titleFont":"Liberation Sans","titleFontWeight":"normal","titleFontSize":11,"titleColor":"#333333","titlePadding":2}
}
}
